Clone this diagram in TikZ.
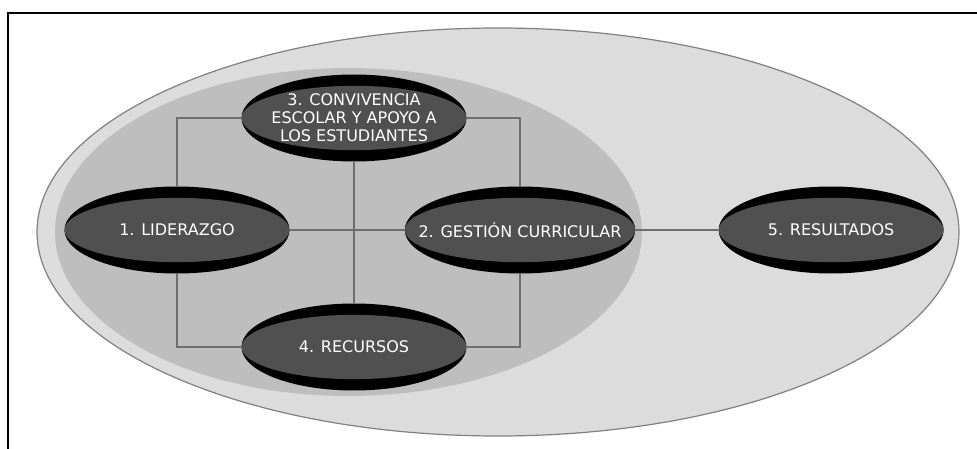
\documentclass[tikz,border=0pt]{standalone}
\usepackage{fontspec}
\setmainfont{DejaVu Sans}
\usetikzlibrary{positioning,calc,shapes.geometric}

\definecolor{areaout}{HTML}{DCDCDC}
\definecolor{areain}{HTML}{BEBEBE}
\definecolor{arealine}{HTML}{808080}
\definecolor{linkgray}{HTML}{6E6E6E}
\definecolor{discgray}{HTML}{505050}

\begin{document}
\begin{tikzpicture}[
  x=1pt, y=-1pt, % one unit is one pixel of the scan
  font=\fontsize{16}{18}\selectfont,
  disc/.style={
    shape=ellipse, fill=black, text=white, align=center,
    inner xsep=-20pt, inner ysep=0pt,
    minimum width=225pt, minimum height=87pt,
    path picture={
      \fill[discgray] let \p1=(path picture bounding box.east),
        \p2=(path picture bounding box.north),
        \p3=(path picture bounding box.center) in
        (\p3) ellipse [x radius=\x1-\x3, y radius={0.74*(\y2-\y3)}];
    }
  },
  link/.style={draw=linkgray, line width=1.3pt}
]
  \useasboundingbox (0,0) rectangle (977,449);

  % frame
  \draw[line width=2pt] (977,13) -- (8,13) -- (8,449);

  % areas
  \draw[arealine, fill=areaout, line width=1.2pt] (498,232) ellipse [x radius=461, y radius=204];
  \fill[areain] (348.5,232) ellipse [x radius=293.5, y radius=164];

  \node[disc] (lider) at (177,230) {1. LIDERAZGO};
  \node[disc] (gestion) at (520,230) {2. GESTIÓN CURRICULAR};
  \node[disc] (conv) at (354,118) {3. CONVIVENCIA\\ESCOLAR Y APOYO A\\LOS ESTUDIANTES};
  \node[disc] (recur) at (354,347) {4. RECURSOS};
  \node[disc, right=83pt of gestion] (result) {5. RESULTADOS};

  \path[link] (conv.west) -| (lider.north)
    (lider.south) |- (recur.west)
    (conv.east) -| (gestion.north)
    (gestion.south) |- (recur.east)
    (conv.south) -- (recur.north)
    (lider.east) -- (gestion.west)
    (gestion.east) -- (result.west);

\end{tikzpicture}
\end{document}
